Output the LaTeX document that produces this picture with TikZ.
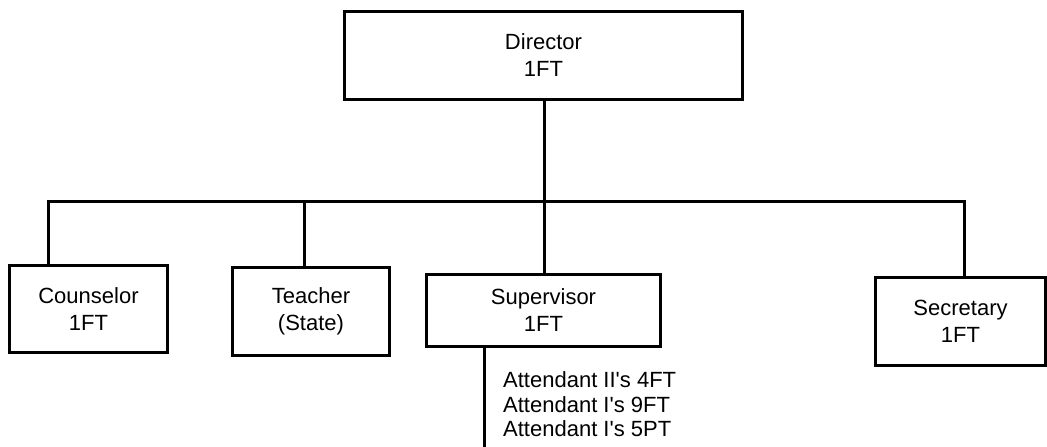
\documentclass[tikz,border=0pt]{standalone}
\usepackage{fontspec}
\setmainfont{Liberation Sans}
\begin{document}
\begin{tikzpicture}[x=1pt,y=-1pt,
  orgbox/.style={draw=black, line width=3pt, fill=white, inner sep=0pt, align=center,
    font=\fontsize{22}{27}\selectfont},
  conn/.style={draw=black, line width=3pt, line join=miter},
  stafftext/.style={inner sep=0pt, anchor=base west, font=\fontsize{22}{27}\selectfont}]
\useasboundingbox (0,0) rectangle (1047,447);
\fill[white] (0,0) rectangle (1047,447);

\coordinate (b1) at (48.5,201);
\coordinate (b2) at (304.5,201);
\coordinate (bm) at (544.5,201);
\coordinate (b4) at (964,201);
\coordinate (supend) at (484.5,447);

\node[orgbox, minimum width=398pt, minimum height=88pt] (dir) at (543.5,55.5) {Director\\1FT};
\node[orgbox, minimum width=158pt, minimum height=87pt] (couns) at (88.5,309) {Counselor\\1FT};
\node[orgbox, minimum width=157pt, minimum height=88pt] (teach) at (311,311.5) {Teacher\\(State)};
\node[orgbox, minimum width=234pt, minimum height=72pt] (sup) at (543.5,310.5) {Supervisor\\1FT};
\node[orgbox, minimum width=170pt, minimum height=87.5pt] (sec) at (960.5,321.25) {Secretary\\1FT};

\draw[conn] (b1 |- couns.north) -- (b1) -- (b2) -- (bm) -- (b4) -- (b4 |- sec.north);
\draw[conn] (bm |- dir.south) -- (bm);
\draw[conn] (b2) -- (b2 |- teach.north);
\draw[conn] (bm) -- (bm |- sup.north);
\draw[conn] (supend |- sup.south) -- (supend);

\node[stafftext] (att1) at (503,387) {Attendant II\textquotesingle s 4FT};
\node[stafftext] (att2) at (503,412) {Attendant I\textquotesingle s 9FT};
\node[stafftext] (att3) at (503,436) {Attendant I\textquotesingle s 5PT};
\end{tikzpicture}
\end{document}
